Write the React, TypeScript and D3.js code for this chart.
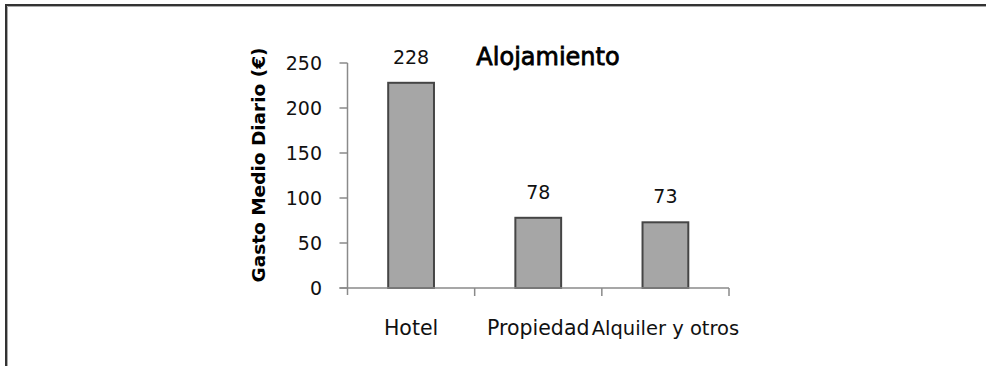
import React from "react";
import * as d3 from "d3";

// Average daily spend by type of accommodation
const categories: string[] = ["Hotel", "Propiedad", "Alquiler y otros"];
const values: number[] = [228, 78, 73];
const yTicks: number[] = [0, 50, 100, 150, 200, 250];
const chartTitle = "Alojamiento";
const yAxisTitle = "Gasto Medio Diario (€)";

const W = 986;
const H = 366;

export default function App() {
  const y = d3.scaleLinear().domain([0, 250]).range([288, 63]);
  const x = d3.scaleBand<string>().domain(categories).range([347.5, 729]).padding(0);
  const barW = x.bandwidth() * 0.36;
  const axisColor = "#8a8a8a";
  const numFont = "'DejaVu Sans', sans-serif";
  const x0 = x.range()[0];
  const x1 = x.range()[1];
  const yBase = y(0);

  return (
    <svg
      width={W}
      height={H}
      style={{ position: "absolute", left: 0, top: 0, background: "#fff" }}
    >
      {/* frame */}
      <path d={`M6,${H} V5 H${W}`} fill="none" stroke="#333" strokeWidth={2} />
      <path d={`M7.5,${H} V6.5 H${W}`} fill="none" stroke="#aaa" strokeWidth={1} />

      {/* bars */}
      {categories.map((c, i) => {
        const cx = (x(c) as number) + x.bandwidth() / 2;
        return (
          <rect
            key={c}
            x={cx - barW / 2}
            y={y(values[i])}
            width={barW}
            height={yBase - y(values[i])}
            fill="#a6a6a6"
            stroke="#454545"
            strokeWidth={2}
          />
        );
      })}

      {/* y axis */}
      <line x1={x0} x2={x0} y1={y(250)} y2={yBase + 7} stroke={axisColor} strokeWidth={1.5} />
      {yTicks.map((t) => (
        <g key={t}>
          <line x1={x0 - 8} x2={x0} y1={y(t)} y2={y(t)} stroke={axisColor} strokeWidth={1.5} />
          <text
            x={322}
            y={y(t) + 7}
            textAnchor="end"
            fontFamily={numFont}
            fontSize={19}
            fill="#111"
          >
            {t}
          </text>
        </g>
      ))}

      {/* x axis */}
      <line x1={x0 - 8} x2={x1} y1={yBase} y2={yBase} stroke={axisColor} strokeWidth={1.5} />
      {categories.map((c) => (
        <line
          key={"t" + c}
          x1={(x(c) as number) + x.bandwidth()}
          x2={(x(c) as number) + x.bandwidth()}
          y1={yBase}
          y2={yBase + 8}
          stroke={axisColor}
          strokeWidth={1.5}
        />
      ))}
      {categories.map((c) => (
        <text
          key={"l" + c}
          x={(x(c) as number) + x.bandwidth() / 2}
          y={335}
          textAnchor="middle"
          fontFamily={numFont}
          fontSize={c.length > 10 ? 19.5 : 20.5}
          fill="#111"
        >
          {c}
        </text>
      ))}

      {/* value labels */}
      {categories.map((c, i) => (
        <text
          key={"v" + c}
          x={(x(c) as number) + x.bandwidth() / 2}
          y={y(values[i]) - 19}
          textAnchor="middle"
          fontFamily={numFont}
          fontSize={19}
          fill="#111"
        >
          {values[i]}
        </text>
      ))}

      {/* titles */}
      <text
        x={548}
        y={65}
        textAnchor="middle"
        fontFamily={numFont}
        fontSize={24}
        fill="#000"
        stroke="#000"
        strokeWidth={0.8}
      >
        {chartTitle}
      </text>
      <text
        transform={`translate(265,165) rotate(-90)`}
        textAnchor="middle"
        fontFamily={numFont}
        fontWeight="bold"
        fontSize={18.5}
        fill="#000"
      >
        {yAxisTitle}
      </text>
    </svg>
  );
}
